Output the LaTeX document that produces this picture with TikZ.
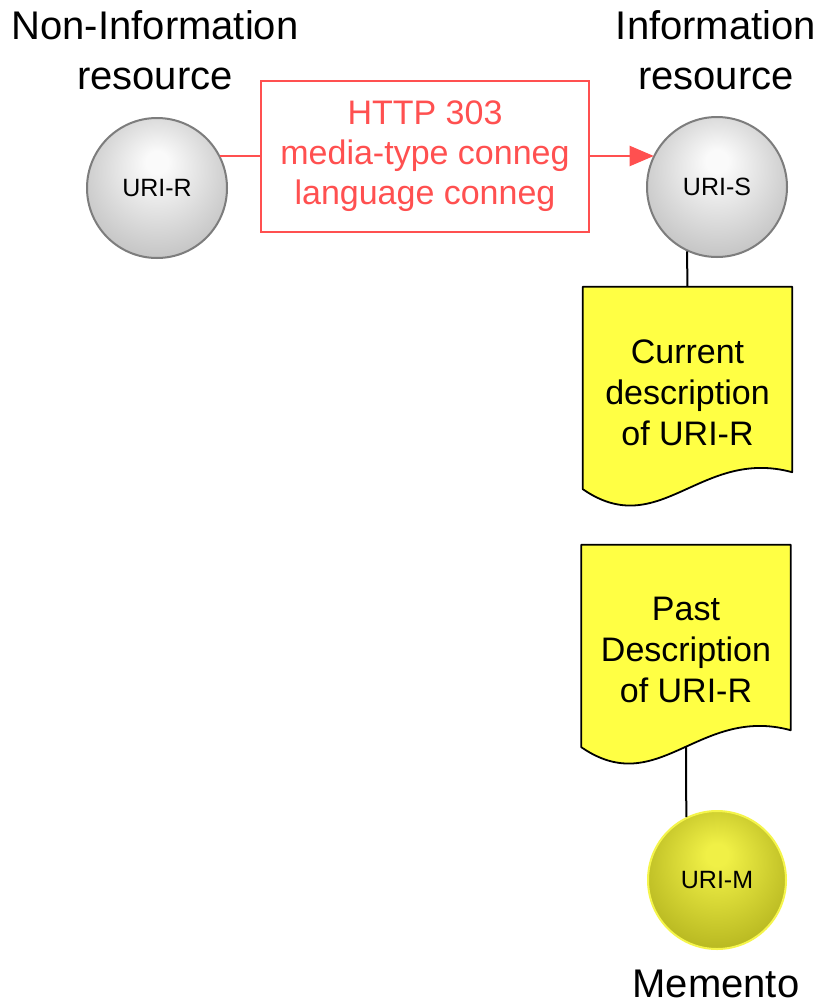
\documentclass[tikz,border=0pt]{standalone}
\usepackage{fontspec}
\setmainfont{Liberation Sans}
\usetikzlibrary{arrows.meta,calc}
\definecolor{redc}{RGB}{255,80,80}
\definecolor{docyellow}{RGB}{255,255,68}
\definecolor{grayedge}{RGB}{125,125,125}
\definecolor{gshi}{RGB}{250,250,250}
\definecolor{gslo}{RGB}{185,185,185}
\definecolor{yshi}{RGB}{240,240,70}
\definecolor{yslo}{RGB}{172,172,25}
\definecolor{yedge}{RGB}{245,245,75}
\pgfdeclareradialshading{graysphere}{\pgfqpoint{0bp}{10bp}}{color(0bp)=(gshi); color(4bp)=(gshi); color(35bp)=(gslo); color(50bp)=(gslo)}
\pgfdeclareradialshading{yellowsphere}{\pgfqpoint{0bp}{10bp}}{color(0bp)=(yshi); color(4bp)=(yshi); color(35bp)=(yslo); color(50bp)=(yslo)}
\newcommand\docpath[1]{\draw[docshape] (#1.north west) -- (#1.north east) -- ($(#1.south east)+(0,-17)$) .. controls ($(#1.south east)+(-92,-42)$) and ($(#1.south west)+(77,53)$) .. (#1.south west) -- cycle;}
\begin{document}
\begin{tikzpicture}[x=1pt,y=-1pt,
  sphere/.style={circle, minimum size=140pt, inner sep=0pt, line width=2pt, font=\fontsize{25}{30}\selectfont},
  graysph/.style={sphere, draw=grayedge, shading=graysphere},
  ysph/.style={sphere, draw=yedge, shading=yellowsphere, minimum size=138pt},
  redbox/.style={draw=redc, line width=2pt, text=redc, minimum width=328pt, minimum height=151pt, align=center, inner sep=0pt, font=\fontsize{34}{40}\selectfont},
  redline/.style={draw=redc, line width=2pt},
  doc/.style={minimum width=209pt, minimum height=202pt, inner sep=0pt},
  docshape/.style={draw=black, fill=docyellow, line width=1.8pt, line join=round},
  doctext/.style={align=center, inner sep=0pt, font=\fontsize{34}{41}\selectfont},
  biglabel/.style={align=center, inner sep=0pt, font=\fontsize{40}{50}\selectfont},
  blk/.style={draw=black, line width=2pt}
]
\useasboundingbox[fill=white] (0,0) rectangle (824,1004);

\node[biglabel] (nir) at (155,50) {Non-Information\\resource};
\node[biglabel] (ir) at (716,50) {Information\\resource};

\node[graysph] (R) at (157,188) {URI-R};
\node[graysph] (S) at (717,187) {URI-S};
\node[redbox] (H) at (425,156) {HTTP 303\\media-type conneg\\language conneg};

\draw[redline] (H.west -| R.27.2) -- (H.west);
\draw[redline, -{Triangle[length=24pt,width=20pt]}] (H.east) -- (H.east -| S.153.7);

\node[doc] (d1) at (687.5,388) {};
\node[doc] (d2) at (686,646) {};
\node[ysph] (M) at (717,880) {URI-M};

\draw[blk] (S.245.1) -- (d1.north);
\draw[blk] (d2.south) -- (M.116.3);

\docpath{d1}
\docpath{d2}

\node[doctext] (d1t) at ($(d1)+(0,5)$) {Current\\description\\of URI-R};
\node[doctext] (d2t) at ($(d2)+(0,4)$) {Past\\Description\\of URI-R};

\node[biglabel] (mem) at (716,984) {Memento};
\end{tikzpicture}
\end{document}
